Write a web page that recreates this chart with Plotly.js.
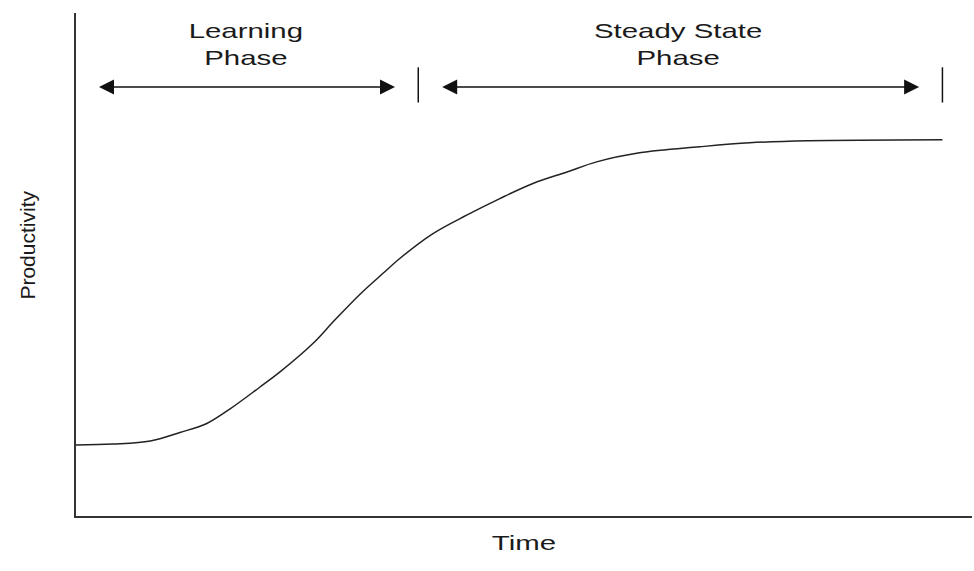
<!DOCTYPE html>
<html>
<head>
<meta charset="utf-8">
<script src="https://cdn.plot.ly/plotly-3.0.1.min.js"></script>
<style>html,body{margin:0;padding:0;background:#fff;}#chart{width:974px;height:571px;}</style>
</head>
<body>
<div id="chart"></div>
<script>
// Curve (time, productivity), arbitrary units
const timeVals = [0, 4.1, 8.3, 11.6, 14.6, 17.2, 20.5, 22.8, 26.5, 28.7, 31.7, 34.3, 36.2, 39.8, 43.6, 47.3, 51.0, 54.8, 58.1, 62.9, 69.6, 75.2, 81.7, 96.7];
const prodVals = [14.1, 14.3, 14.9, 16.6, 18.4, 21.3, 25.6, 28.7, 34.4, 38.6, 44.1, 48.3, 51.3, 56.1, 59.8, 63.1, 66.1, 68.4, 70.4, 72.2, 73.4, 74.2, 74.6, 74.8];

// Phase annotations
const phaseLabels = ["Learning<br>Phase", "Steady State<br>Phase"];
const phaseLabelX = [19.0, 67.2];
const phaseArrowStart = [2.4, 40.7];
const phaseArrowEnd = [35.6, 94.1];
const phaseDividers = [38.2, 96.7];
const arrowY = 85.3;
const labelY = 93.8;
const dividerLow = 82.2, dividerHigh = 89.2;
const axisTitleX = "Time";
const axisTitleY = "Productivity";

const font = {family: "Liberation Sans, Arial, sans-serif", size: 21, color: "#1a1a1a"};
const SX = 1.4; // horizontal stretch of the reference lettering

const annotations = [];
phaseLabels.forEach((t, i) => {
  annotations.push({x: phaseLabelX[i], y: labelY, xref: 'x', yref: 'y', text: t, showarrow: false, font: font, yanchor: 'middle'});
  annotations.push({x: phaseArrowEnd[i], y: arrowY, ax: phaseArrowStart[i], ay: arrowY, xref: 'x', yref: 'y', axref: 'x', ayref: 'y',
    text: '', showarrow: true, arrowside: 'end+start', arrowhead: 2, startarrowhead: 2, arrowsize: 2, startarrowsize: 2, arrowwidth: 1.5, arrowcolor: '#111', standoff: 0, startstandoff: 0});
});
annotations.push({x: -0.069, y: 0.539, xref: 'paper', yref: 'paper', text: axisTitleY, textangle: -90, showarrow: false, font: font});
annotations.push({x: 0.5, y: -0.052, xref: 'paper', yref: 'paper', text: axisTitleX, showarrow: false, font: font, yanchor: 'middle'});

const shapes = phaseDividers.map(x => ({type: 'line', xref: 'x', yref: 'y', x0: x, x1: x, y0: dividerLow, y1: dividerHigh, line: {color: '#111', width: 1.5}}));

Plotly.newPlot('chart', [{
  x: timeVals, y: prodVals, type: 'scatter', mode: 'lines',
  line: {color: '#222', width: 1.5, shape: 'spline', smoothing: 1}, hoverinfo: 'skip'
}], {
  width: 974, height: 571,
  margin: {l: 76, r: 2, t: 13, b: 55},
  paper_bgcolor: '#fff', plot_bgcolor: '#fff',
  showlegend: false,
  xaxis: {range: [0, 100], showgrid: false, zeroline: false, showticklabels: false, ticks: '', showline: true, linecolor: '#333', linewidth: 2},
  yaxis: {range: [0, 100], showgrid: false, zeroline: false, showticklabels: false, ticks: '', showline: true, linecolor: '#333', linewidth: 2},
  annotations: annotations,
  shapes: shapes,
  font: font
}, {displayModeBar: false, staticPlot: true}).then(gd => {
  // widen the horizontal lettering like the reference
  gd.querySelectorAll('text.annotation-text').forEach(t => {
    if (t.textContent === axisTitleY || !t.textContent) return;
    const x = parseFloat(t.getAttribute('x')) || 0;
    const prev = t.getAttribute('transform') || '';
    t.setAttribute('transform', prev + ` translate(${x * (1 - SX)},0) scale(${SX},1)`);
  });
});
</script>
</body>
</html>
